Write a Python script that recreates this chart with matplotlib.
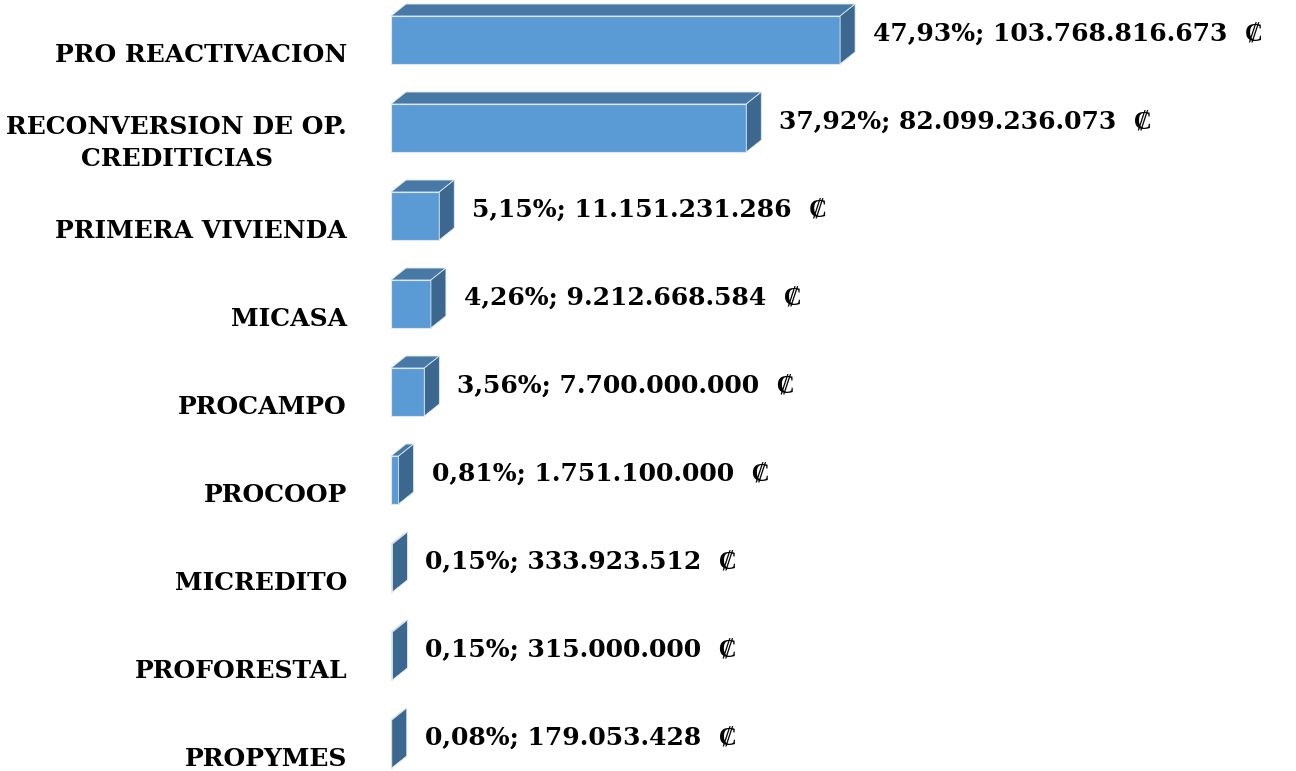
import matplotlib
matplotlib.use("Agg")
import matplotlib.pyplot as plt
from matplotlib.patches import Polygon
from matplotlib.transforms import offset_copy

categories = ["PRO REACTIVACION", "RECONVERSION DE OP.\nCREDITICIAS", "PRIMERA VIVIENDA",
              "MICASA", "PROCAMPO", "PROCOOP", "MICREDITO", "PROFORESTAL", "PROPYMES"]
percents = [47.93, 37.92, 5.15, 4.26, 3.56, 0.81, 0.15, 0.15, 0.08]
pct_labels = ["47,93%", "37,92%", "5,15%", "4,26%", "3,56%", "0,81%", "0,15%", "0,15%", "0,08%"]
amount_labels = ["103.768.816.673", "82.099.236.073", "11.151.231.286", "9.212.668.584",
                 "7.700.000.000", "1.751.100.000", "333.923.512", "315.000.000", "179.053.428"]

W, H = 1296, 771
fig = plt.figure(figsize=(W / 100, H / 100), dpi=100)
ax = fig.add_axes([0, 0, 1, 1])
px_per_pct = 9.37
x0 = 391
ax.set_xlim(-x0 / px_per_pct, (W - x0) / px_per_pct)
ax.set_ylim((H - 40) / 88, -40 / 88)
ax.axis("off")

front_c = "#5B9BD5"
top_c = "#4878A6"
side_c = "#3C6890"
bh = 0.545
dx = 15 / px_per_pct
dy = 12 / 88

ypos = list(range(len(categories)))
ax.barh(ypos, percents, height=bh, color=front_c, edgecolor="#DCE8F4", linewidth=0.8, zorder=3)
for y, v in zip(ypos, percents):
    top = y - bh / 2
    bot = y + bh / 2
    ax.add_patch(Polygon([(0, top), (v, top), (v + dx, top - dy), (dx, top - dy)],
                         closed=True, facecolor=top_c, edgecolor="#DCE8F4", linewidth=0.6, zorder=2))
    ax.add_patch(Polygon([(v, top), (v + dx, top - dy), (v + dx, bot - dy), (v, bot)],
                         closed=True, facecolor=side_c, edgecolor="#DCE8F4", linewidth=0.6, zorder=4))

fam = ["DejaVu Serif", "Liberation Serif"]
lab_tr = offset_copy(ax.transData, fig=fig, x=0, y=-15, units="dots")
for y, c in zip(ypos, categories):
    ax.text(347 / px_per_pct - x0 / px_per_pct, y, c, transform=lab_tr, ha="right", va="center",
            fontsize=18, fontweight="bold", family=fam, linespacing=1.4, multialignment="center")

val_tr = offset_copy(ax.transData, fig=fig, x=18, y=5, units="dots")
for y, v, p, a in zip(ypos, percents, pct_labels, amount_labels):
    ax.text(v + dx, y, f"{p}; {a}  \u20a1", transform=val_tr, ha="left", va="center",
            fontsize=18, fontweight="bold", family=fam)

fig.savefig("out.png", dpi=100, facecolor="white")
